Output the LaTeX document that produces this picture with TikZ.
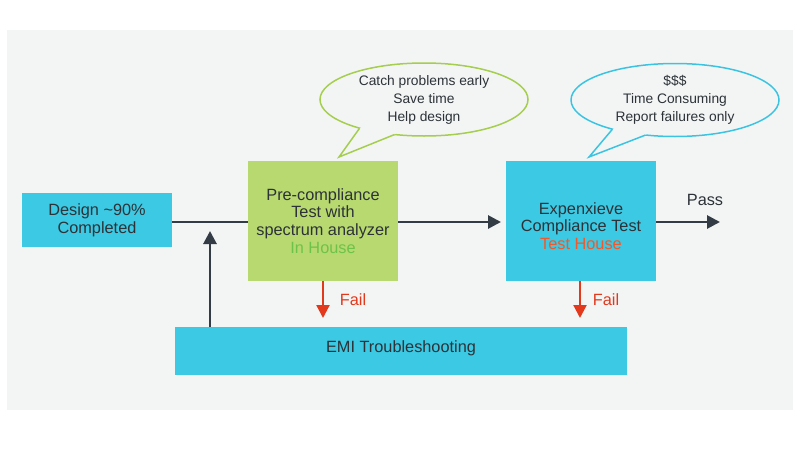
\documentclass[tikz,border=0pt]{standalone}
\usepackage{fontspec}
\setmainfont{Liberation Sans}
\usetikzlibrary{arrows.meta,shapes.geometric,calc}
\definecolor{bgc}{HTML}{F3F5F5}
\definecolor{cyanbox}{HTML}{3BC9E3}
\definecolor{greenbox}{HTML}{B8D96F}
\definecolor{greenline}{HTML}{A6CE4E}
\definecolor{blueline}{HTML}{3BC4E2}
\definecolor{dark}{HTML}{333B44}
\definecolor{txt}{HTML}{2C3237}
\definecolor{inhouse}{HTML}{6DC34A}
\definecolor{testhouse}{HTML}{F2582A}
\definecolor{failred}{HTML}{E2391D}
\begin{document}
\begin{tikzpicture}[x=1pt,y=-1pt,
  box/.style={draw=none, inner sep=0pt, outer sep=0pt, align=center, text=txt,
    font=\fontsize{16.3}{17.8}\selectfont},
  bubble/.style={ellipse, inner sep=0pt, outer sep=0pt, fill=bgc, line width=1.5pt,
    minimum width=208pt, minimum height=73pt, align=center, text=txt,
    font=\fontsize{13.8}{18}\selectfont},
  conn/.style={draw=dark, line width=2.8pt},
  failconn/.style={draw=failred, line width=2.3pt},
  tip/.style={-{Triangle[length=13pt,width=13pt]}},
  lbl/.style={inner sep=0pt, font=\fontsize{16.3}{17.8}\selectfont}
]
\useasboundingbox (0,0) rectangle (800,450);
\fill[white] (0,0) rectangle (800,450);
\fill[bgc] (7,30) rectangle (793,410);

% boxes
\node[box, fill=cyanbox, minimum width=150pt, minimum height=54pt] (design) at (97,220)
  {Design \textasciitilde90\%\\Completed};
\node[box, fill=greenbox, minimum width=150pt, minimum height=120pt] (pre) at (323,221)
  {Pre-compliance\\Test with\\spectrum analyzer\\\textcolor{inhouse}{In House}};
\node[box, fill=cyanbox, minimum width=150pt, minimum height=120pt] (exp) at (581,221) {};
\node[box] (exptext) at (581,226)
  {Expenxieve\\Compliance Test\\\textcolor{testhouse}{Test House}};
\node[box, fill=cyanbox, minimum width=452pt, minimum height=48pt] (emi) at (401,351) {};
\node[box] (emitext) at (401,348) {EMI Troubleshooting};

% connectors
\coordinate (passend) at (720,222);
\coordinate (uptip) at (210,231);
\draw[conn] (design.east |- 0,222) -- (pre.west |- 0,222);
\draw[conn, tip, shorten >=5pt] (pre.east |- 0,222) -- (exp.west |- 0,222);
\draw[conn, tip] (exp.east |- 0,222) -- (passend);
\draw[conn, tip] (emi.north -| uptip) -- (uptip);
\draw[failconn, tip, shorten >=9pt] (pre.south) -- (pre.south |- emi.north);
\draw[failconn, tip, shorten >=9pt] ([xshift=-1pt]exp.south) -- ([xshift=-1pt]exp.south |- emi.north);

% labels
\node[lbl, text=txt] (pass) at (705,200) {Pass};
\node[lbl, text=failred] (fail1) at (353,300) {Fail};
\node[lbl, text=failred] (fail2) at (606,300) {Fail};

% speech bubbles
\node[bubble, draw=greenline] (gb) at (424,99.5)
  {Catch problems early\\Save time\\Help design};
\coordinate (gtip) at (339,157);
\fill[bgc] (gb.204.7) -- (gtip) -- (gb.230.4) -- ($(gb.230.4)!0.12!(gb.center)$)
  -- ($(gb.204.7)!0.12!(gb.center)$) -- cycle;
\draw[greenline, line width=1.5pt] (gb.204.7) -- (gtip) -- (gb.230.4);

\node[bubble, draw=blueline] (bb) at (675,100)
  {\$\$\$\\Time Consuming\\Report failures only};
\coordinate (btip) at (589,157);
\fill[bgc] (bb.205.4) -- (btip) -- (bb.230.3) -- ($(bb.230.3)!0.12!(bb.center)$)
  -- ($(bb.205.4)!0.12!(bb.center)$) -- cycle;
\draw[blueline, line width=1.5pt] (bb.205.4) -- (btip) -- (bb.230.3);
\end{tikzpicture}
\end{document}
